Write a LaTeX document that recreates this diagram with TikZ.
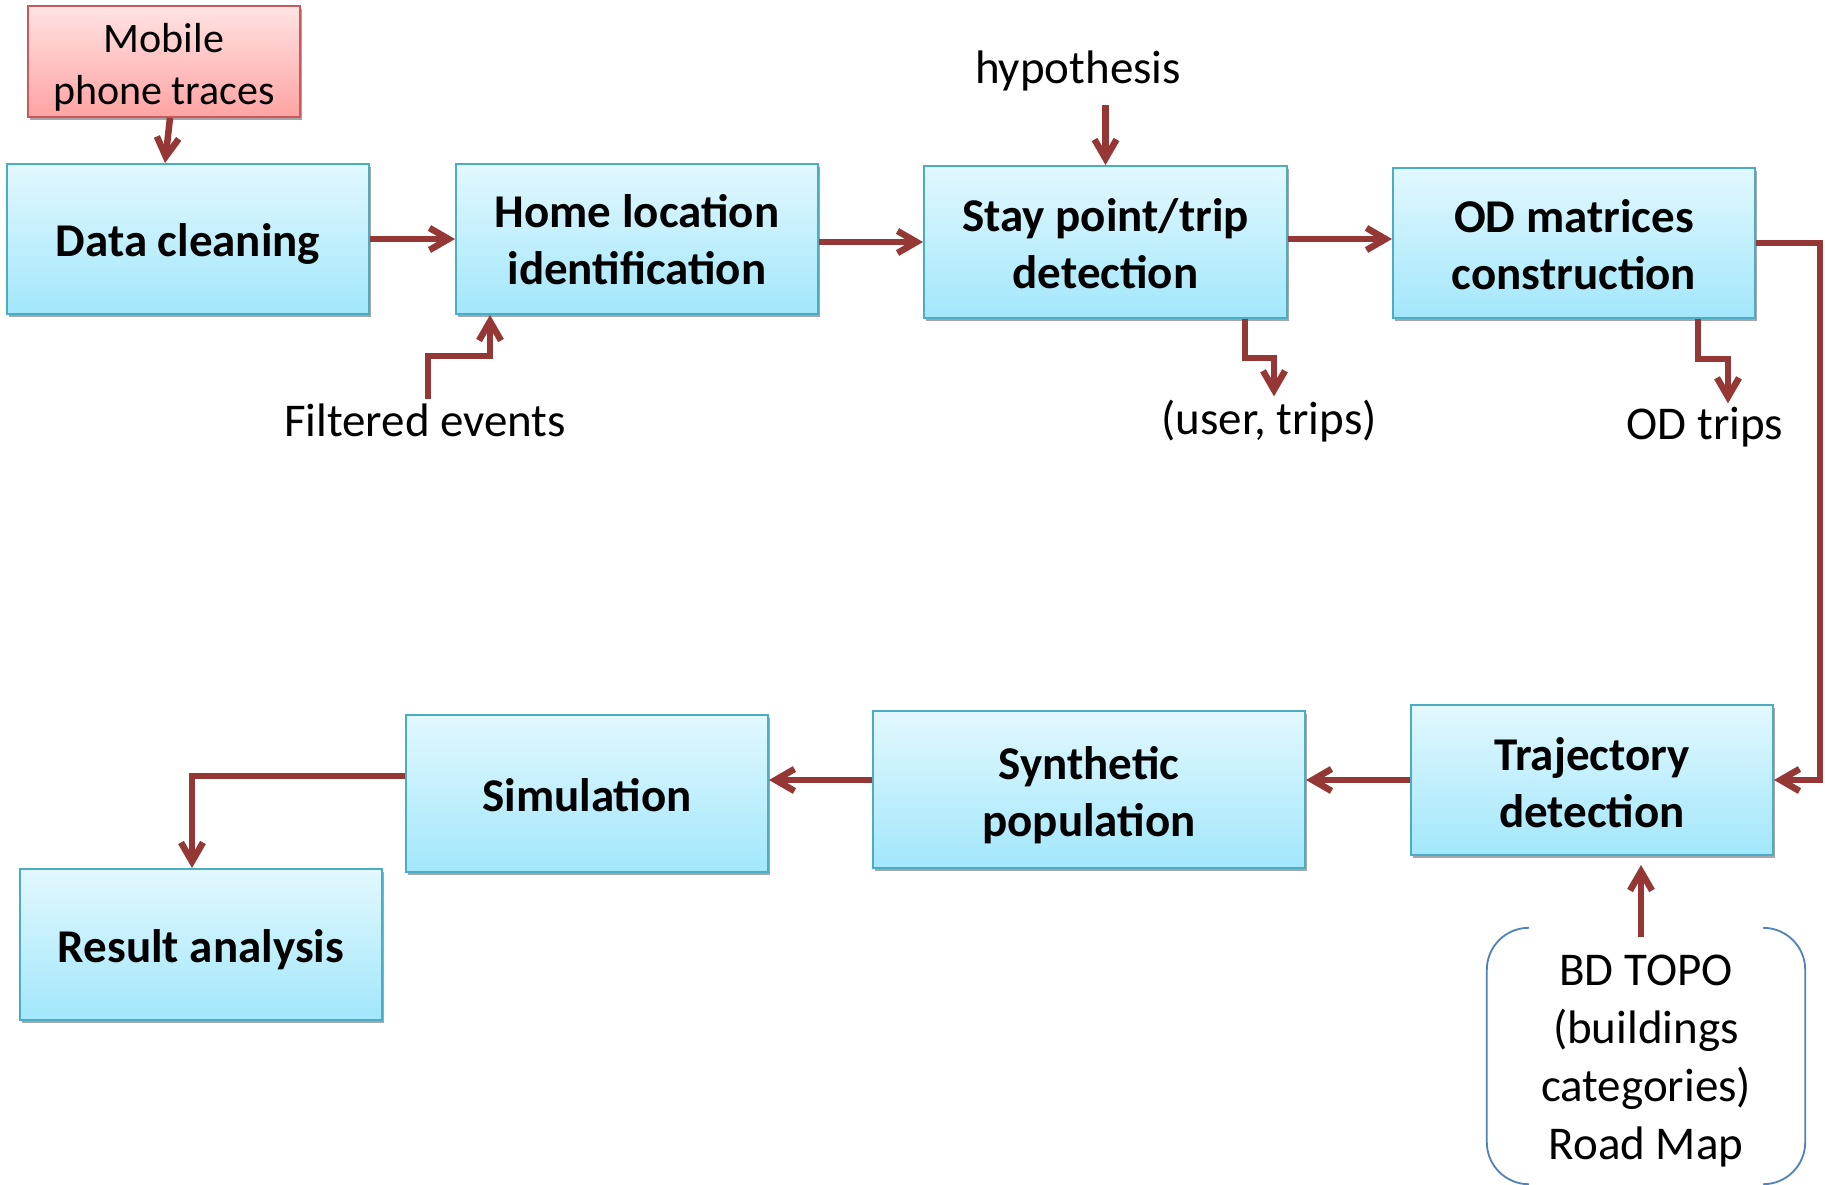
\documentclass[tikz,border=0pt]{standalone}
\usepackage{fontspec}
\setmainfont{Carlito}
\usetikzlibrary{arrows.meta,shadows,calc}
\definecolor{arrc}{HTML}{953735}
\definecolor{boxtop}{HTML}{E2F8FE}
\definecolor{boxbot}{HTML}{A2E7FB}
\definecolor{boxline}{HTML}{4BACC6}
\definecolor{pinktop}{HTML}{FFE3E3}
\definecolor{pinkbot}{HTML}{FFA3A3}
\definecolor{pinkline}{HTML}{C9595A}
\definecolor{brk}{HTML}{4F81BD}
\newcommand{\lowr}[2]{\raisebox{-#1}[\height][\depth]{\begin{tabular}{@{}c@{}}#2\end{tabular}}}
\begin{document}
\begin{tikzpicture}[x=1pt,y=-1pt,
  procbox/.style={draw=boxline, line width=2pt, top color=boxtop, bottom color=boxbot,
    minimum width=362pt, minimum height=150pt, align=center,
    font=\fontsize{47}{57}\selectfont\bfseries,
    drop shadow={shadow xshift=2pt,shadow yshift=-3pt,opacity=0.35,fill=black}},
  srcbox/.style={procbox, draw=pinkline, top color=pinktop, bottom color=pinkbot,
    minimum width=272pt, minimum height=105pt, font=\fontsize{42}{52}\selectfont},
  lbl/.style={font=\fontsize{47}{58}\selectfont, align=center, inner sep=4pt},
  arr/.style={draw=arrc, line width=6.5pt, -{Straight Barb[length=19pt,width=22pt]}},
  brkline/.style={draw=brk, line width=1.8pt, rounded corners=42pt}]
\useasboundingbox (0,0) rectangle (1825,1185);
\fill[white] (0,0) rectangle (1825,1185);
\clip (0,0) rectangle (1825,1185);

% boxes
\node[srcbox] (mob) at (164,61.5) {\lowr{6.5pt}{Mobile\\phone traces}};
\node[procbox] (dc) at (188,239) {\lowr{5.8pt}{Data cleaning}};
\node[procbox] (home) at (637,239) {\lowr{5.7pt}{Home location\\identification}};
\node[procbox, minimum width=363pt, minimum height=152pt] (stay) at (1105.5,242) {\lowr{6.2pt}{Stay point/trip\\detection}};
\node[procbox] (od) at (1574,243) {\lowr{6.8pt}{OD matrices\\construction}};
\node[procbox] (traj) at (1592,780) {\lowr{7.8pt}{Trajectory\\detection}};
\node[procbox, minimum width=432pt, minimum height=157pt] (syn) at (1089,789.5) {\lowr{7.2pt}{Synthetic\\population}};
\node[procbox, minimum height=157pt] (sim) at (587,793.5) {\lowr{6.8pt}{Simulation}};
\node[procbox, minimum height=151pt] (res) at (201,944.5) {\lowr{6.8pt}{Result analysis}};

% labels
\node[lbl] (hyp) at (1078,70.5) {hypothesis};
\node[lbl] (fe) at (425,420) {Filtered events};
\node[lbl] (ut) at (1269,421.5) {(user, trips)};
\node[lbl] (odt) at (1705,427.5) {OD trips};
\node[lbl, minimum width=318pt, minimum height=256pt] (bd) at (1646,1056)
  {\lowr{5pt}{BD TOPO\\(buildings\\categories)\\Road Map}};
\draw[brkline] ($(bd.north west)+(42,0)$) -- (bd.north west) -- (bd.south west) -- ($(bd.south west)+(42,0)$);
\draw[brkline] ($(bd.north east)+(-42,0)$) -- (bd.north east) -- (bd.south east) -- ($(bd.south east)+(-42,0)$);

% connectors
\draw[arr] ($(mob.south)+(6,0)$) -- ($(dc.north)+(-23,0)$);
\draw[arr] (dc.east) -- (home.west);
\draw[arr] ($(home.east)+(0,3)$) -- ($(home.east -| stay.west)+(0,3)$);
\draw[arr] ($(stay.east)+(0,-3)$) -- ($(stay.east -| od.west)+(0,-3)$);
\draw[arr] (od.east) -- ++(64,0) |- (traj.east);
\draw[arr] (traj.west) -- (traj.west -| syn.east);
\draw[arr] (syn.west |- traj.west) -- (sim.east |- traj.west);
\draw[arr] ($(sim.west)+(0,-17.5)$) -| ($(res.north)+(-9,0)$);
\draw[arr] ($(hyp.south -| stay.north)+(0,10)$) -- (stay.north);
\draw[arr] ($(fe.north)+(3,0)$) |- ($(home.south)+(-147,41)$) -- ($(home.south)+(-147,0)$);
\draw[arr] ($(stay.south)+(139.5,0)$) -- ++(0,39) -| ($(ut.north)+(5,0)$);
\draw[arr] ($(od.south)+(124,0)$) -- ++(0,40) -| ($(odt.north)+(23,0)$);
\draw[arr] ($(bd.north)+(-5,9)$) -- ($(traj.south)+(49,9)$);
\end{tikzpicture}
\end{document}
